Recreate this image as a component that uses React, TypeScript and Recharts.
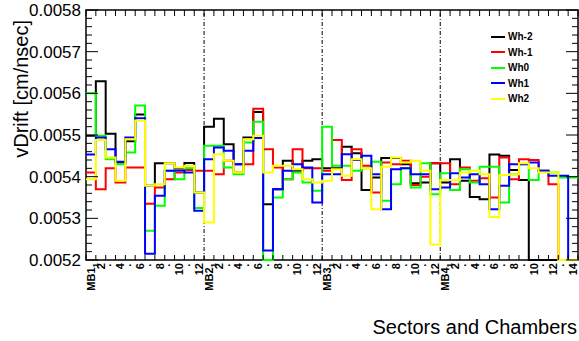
import { LineChart, Line, XAxis, YAxis, ReferenceLine, ReferenceArea, Legend } from "recharts";

const FONT = "'Liberation Sans', Arial, Helvetica, sans-serif";

// chambers and number of sectors in each
const CHAMBERS = ["MB1", "MB2", "MB3", "MB4"];
const SECTORS_PER_CHAMBER = [12, 12, 12, 14];

// vDrift per sector, MB1 s1..12, MB2 s1..12, MB3 s1..12, MB4 s1..14
const WH_M2 = [
  0.005498, 0.005629, 0.005503, 0.005434, 0.005485, 0.005549, 0.005378, 0.005432, 0.005432, 0.00542, 0.005433, 0.005362,
  0.00552, 0.005539, 0.005478, 0.00543, 0.005494, 0.005555, 0.005334, 0.00537, 0.005438, 0.005414, 0.005438, 0.005442,
  0.00542, 0.00542, 0.005472, 0.005456, 0.005368, 0.005398, 0.005445, 0.005445, 0.00543, 0.005384, 0.005386, 0.005432,
  0.005386, 0.005442, 0.00539, 0.005351, 0.005346, 0.005453, 0.00545, 0.005416, 0.005392, 0, 0, 0, 0, 0,
];
const WH_M1 = [
  0.00541, 0.00537, 0.00542, 0.005386, 0.005422, 0.005422, 0.005335, 0.005374, 0.005394, 0.00541, 0.005416, 0.005414,
  0.005414, 0.005406, 0.005438, 0.00541, 0.00543, 0.005563, 0.005466, 0.005422, 0.005394, 0.005466, 0.00542, 0.00542,
  0.005414, 0.005488, 0.005392, 0.005466, 0.005426, 0.005362, 0.005434, 0.00543, 0.005438, 0.00538, 0.0054, 0.005432,
  0.005432, 0.005382, 0.005422, 0.00539, 0.005396, 0.00535, 0.005446, 0.005394, 0.005442, 0.00544, 0.005414, 0.005382, 0, 0,
];
const WH_0 = [
  0.0056, 0.005498, 0.005442, 0.00543, 0.005458, 0.005571, 0.00527, 0.00533, 0.005414, 0.005394, 0.00542, 0.005325,
  0.005474, 0.005474, 0.005422, 0.005406, 0.005482, 0.005532, 0.00518, 0.00535, 0.005394, 0.00541, 0.005386, 0.005366,
  0.00552, 0.005426, 0.005426, 0.005414, 0.00542, 0.005436, 0.005342, 0.005382, 0.00542, 0.005374, 0.005432, 0.005358,
  0.005408, 0.005368, 0.005418, 0.005386, 0.005424, 0.005424, 0.005338, 0.005406, 0.00543, 0.005392, 0.005414, 0.00541, 0.005398, 0.005398,
];
const WH_1 = [
  0.005453, 0.005494, 0.005466, 0.005436, 0.005494, 0.00554, 0.005215, 0.005354, 0.005414, 0.005415, 0.00541, 0.005318,
  0.005442, 0.00547, 0.005462, 0.00543, 0.005462, 0.005493, 0.005223, 0.00537, 0.005414, 0.00543, 0.005422, 0.005338,
  0.005406, 0.005406, 0.005454, 0.00544, 0.00545, 0.005406, 0.005322, 0.005418, 0.00542, 0.005406, 0.005406, 0.00537,
  0.005374, 0.005408, 0.005398, 0.005406, 0.005382, 0.005322, 0.005378, 0.00543, 0.00543, 0.005434, 0.005414, 0.005402, 0.005402, 0,
];
const WH_2 = [
  0.005394, 0.005488, 0.005446, 0.00539, 0.00549, 0.005535, 0.005378, 0.005382, 0.005432, 0.005422, 0.005426, 0.005362,
  0.00529, 0.005454, 0.005438, 0.00541, 0.00549, 0.005498, 0.00541, 0.005426, 0.005426, 0.005418, 0.005394, 0.005386,
  0.00539, 0.005418, 0.005402, 0.005442, 0.00542, 0.005322, 0.005424, 0.005446, 0.005434, 0.005438, 0.005414, 0.005237,
  0.005392, 0.005392, 0.00541, 0.005414, 0.005406, 0.005303, 0.005404, 0.005406, 0.005432, 0.00542, 0.00541, 0.00541, 0, 0,
];

const SERIES = [
  { key: "whm2", name: "Wh-2", color: "#000000", values: WH_M2 },
  { key: "whm1", name: "Wh-1", color: "#ff0000", values: WH_M1 },
  { key: "wh0", name: "Wh0", color: "#00ff00", values: WH_0 },
  { key: "wh1", name: "Wh1", color: "#0000ff", values: WH_1 },
  { key: "wh2", name: "Wh2", color: "#ffff00", values: WH_2 },
];

const Y_MIN = 0.0052;
const Y_MAX = 0.0058;
const Y_TICKS = [0.0052, 0.0053, 0.0054, 0.0055, 0.0056, 0.0057, 0.0058];
const Y_MINOR_PER_MAJOR = 5;

// plot frame in page pixels (follows from the chart margins below)
const W = 579;
const H = 341;
const PLOT_LEFT = 86;
const PLOT_RIGHT = 578;
const PLOT_TOP = 10;
const PLOT_BOTTOM = 260;

const N_BINS = SECTORS_PER_CHAMBER.reduce((a, b) => a + b, 0);

// bin labels: "MB1" + subscript 1 for first sector, even sectors numbered, odd ones a dot
const BIN_LABELS: { main: string; sub?: string }[] = [];
CHAMBERS.forEach((ch, c) => {
  for (let s = 1; s <= SECTORS_PER_CHAMBER[c]; s++) {
    if (s === 1) BIN_LABELS.push({ main: ch, sub: "1" });
    else if (s % 2 === 0) BIN_LABELS.push({ main: String(s) });
    else BIN_LABELS.push({ main: "·" });
  }
});

const CHAMBER_EDGES: number[] = [];
let acc = 0;
SECTORS_PER_CHAMBER.slice(0, -1).forEach((n) => {
  acc += n;
  CHAMBER_EDGES.push(acc);
});

const clamp = (v: number) => Math.min(Y_MAX, Math.max(Y_MIN, v));

// histogram rows: one per bin low edge, plus the closing edge
const rows = Array.from({ length: N_BINS + 1 }, (_, i) => {
  const row: Record<string, number> = { x: i };
  SERIES.forEach((s) => {
    row[s.key] = clamp(s.values[Math.min(i, N_BINS - 1)]);
  });
  return row;
});

const X_TICKS: number[] = [];
for (let i = 0; i <= N_BINS; i++) {
  X_TICKS.push(i);
  if (i < N_BINS) X_TICKS.push(i + 0.5);
}

const Y_ALL: number[] = [];
for (let k = 0; k < Y_TICKS.length - 1; k++) {
  const step = (Y_TICKS[k + 1] - Y_TICKS[k]) / Y_MINOR_PER_MAJOR;
  for (let m = 0; m < Y_MINOR_PER_MAJOR; m++) {
    Y_ALL.push(Number((Y_TICKS[k] + m * step).toFixed(7)));
  }
}
Y_ALL.push(Y_TICKS[Y_TICKS.length - 1]);

const isMajorY = (v: number) => Y_TICKS.some((t) => Math.abs(t - v) < 1e-9);

function XTick(props: any) {
  const { x, payload } = props;
  const v = payload.value as number;
  if (Number.isInteger(v)) {
    return (
      <g>
        <line x1={x} x2={x} y1={PLOT_TOP} y2={PLOT_TOP + 6} stroke="#000" strokeWidth={1} />
        <line x1={x} x2={x} y1={PLOT_BOTTOM} y2={PLOT_BOTTOM - 5} stroke="#000" strokeWidth={1} />
      </g>
    );
  }
  const lab = BIN_LABELS[Math.floor(v)];
  const ty = PLOT_BOTTOM + 3;
  return (
    <text
      x={x}
      y={ty}
      transform={`rotate(-90, ${x}, ${ty})`}
      textAnchor="end"
      dy="0.35em"
      fontFamily={FONT}
      fontWeight="bold"
      fontSize={11}
      fill="#000"
    >
      {lab.main}
      {lab.sub && (
        <tspan fontSize={8} dy={3}>
          {lab.sub}
        </tspan>
      )}
    </text>
  );
}

function YTick(props: any) {
  const { y, payload } = props;
  const v = payload.value as number;
  const major = isMajorY(v);
  const len = major ? 12 : 6;
  return (
    <g>
      <line x1={PLOT_LEFT} x2={PLOT_LEFT + len} y1={y} y2={y} stroke="#000" strokeWidth={1} />
      <line x1={PLOT_RIGHT} x2={PLOT_RIGHT - len} y1={y} y2={y} stroke="#000" strokeWidth={1} />
      {major && (
        <text x={PLOT_LEFT - 5} y={y} dy="0.35em" textAnchor="end" fontFamily={FONT} fontSize={17} fill="#000">
          {v.toFixed(4)}
        </text>
      )}
    </g>
  );
}

// keep the legend in series order (Recharts sorts by name otherwise)
function LegendBox({ payload }: any) {
  const items = [...(payload || [])].sort(
    (a: any, b: any) =>
      SERIES.findIndex((s) => s.name === a.value) - SERIES.findIndex((s) => s.name === b.value)
  );
  return (
    <div style={{ fontFamily: FONT }}>
      {items.map((e: any) => (
        <div key={e.value} style={{ display: "flex", alignItems: "center", height: 15.5 }}>
          <span style={{ width: 14, height: 0, borderTop: `2px solid ${e.color}`, marginRight: 3 }} />
          <span style={{ fontSize: 10, fontWeight: "bold", color: "#000" }}>{e.value}</span>
        </div>
      ))}
    </div>
  );
}

export default function App() {
  return (
    <div style={{ position: "absolute", left: 0, top: 0, width: W, height: H, background: "#fff" }}>
      <LineChart
        width={W}
        height={H}
        data={rows}
        margin={{ top: PLOT_TOP, right: W - PLOT_RIGHT, bottom: 0, left: 10 }}
      >
        <XAxis
          dataKey="x"
          type="number"
          domain={[0, N_BINS]}
          ticks={X_TICKS}
          interval={0}
          height={H - PLOT_BOTTOM}
          axisLine={false}
          tickLine={false}
          tick={<XTick />}
        />
        <YAxis
          type="number"
          domain={[Y_MIN, Y_MAX]}
          ticks={Y_ALL}
          interval={0}
          width={PLOT_LEFT - 10}
          axisLine={false}
          tickLine={false}
          tick={<YTick />}
        />
        <ReferenceArea
          x1={0}
          x2={N_BINS}
          y1={Y_MIN}
          y2={Y_MAX}
          fill="none"
          fillOpacity={0}
          stroke="#000"
          strokeWidth={1.5}
          ifOverflow="visible"
        />
        {CHAMBER_EDGES.map((e) => (
          <ReferenceLine key={e} x={e} stroke="#000" strokeWidth={1} strokeDasharray="4 2 1 2" />
        ))}
        {SERIES.map((s) => (
          <Line
            key={s.key}
            dataKey={s.key}
            name={s.name}
            type="stepAfter"
            stroke={s.color}
            strokeWidth={2}
            dot={false}
            activeDot={false}
            isAnimationActive={false}
          />
        ))}
        <Legend
          layout="horizontal"
          verticalAlign="middle"
          align="center"
          content={<LegendBox />}
          wrapperStyle={{ top: 29, left: 491, width: 70, height: 80 }}
        />
      </LineChart>
      <svg width={W} height={H} style={{ position: "absolute", left: 0, top: 0, pointerEvents: "none" }}>
        <text
          transform="rotate(-90)"
          x={-20}
          y={28}
          textAnchor="end"
          fontFamily={FONT}
          fontSize={20}
          fill="#000"
        >
          vDrift [cm/nsec]
        </text>
        <text x={577} y={334} textAnchor="end" fontFamily={FONT} fontSize={20} fill="#000">
          Sectors and Chambers
        </text>
      </svg>
    </div>
  );
}
